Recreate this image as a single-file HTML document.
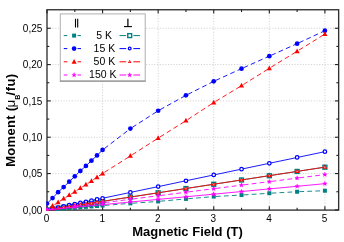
<!DOCTYPE html>
<html><head><meta charset="utf-8"><title>Chart</title>
<style>html,body{margin:0;padding:0;background:#fff;}body{width:344px;height:242px;position:relative;overflow:hidden;font-family:"Liberation Sans",sans-serif;}</style>
</head><body>
<svg width="344" height="242" viewBox="0 0 344 242" style="position:absolute;left:0;top:0;will-change:transform">
<rect width="344" height="242" fill="#fff"/>
<g stroke="#d0d0d0" stroke-width="1" stroke-dasharray="1.1 1.65" fill="none"><line x1="102.58" y1="9.75" x2="102.58" y2="210.10"/><line x1="158.16" y1="9.75" x2="158.16" y2="210.10"/><line x1="213.74" y1="9.75" x2="213.74" y2="210.10"/><line x1="269.32" y1="9.75" x2="269.32" y2="210.10"/><line x1="324.90" y1="9.75" x2="324.90" y2="210.10"/><line x1="47.00" y1="173.57" x2="338.65" y2="173.57"/><line x1="47.00" y1="137.24" x2="338.65" y2="137.24"/><line x1="47.00" y1="100.91" x2="338.65" y2="100.91"/><line x1="47.00" y1="64.58" x2="338.65" y2="64.58"/><line x1="47.00" y1="28.25" x2="338.65" y2="28.25"/></g>
<rect x="47.00" y="9.75" width="291.65" height="200.35" fill="none" stroke="#303030" stroke-width="1.35"/>
<g stroke="#202020" stroke-width="1.1"><line x1="47.00" y1="210.10" x2="47.00" y2="206.35"/><line x1="47.00" y1="9.75" x2="47.00" y2="13.50"/><line x1="74.79" y1="210.10" x2="74.79" y2="207.80"/><line x1="74.79" y1="9.75" x2="74.79" y2="12.05"/><line x1="102.58" y1="210.10" x2="102.58" y2="206.35"/><line x1="102.58" y1="9.75" x2="102.58" y2="13.50"/><line x1="130.37" y1="210.10" x2="130.37" y2="207.80"/><line x1="130.37" y1="9.75" x2="130.37" y2="12.05"/><line x1="158.16" y1="210.10" x2="158.16" y2="206.35"/><line x1="158.16" y1="9.75" x2="158.16" y2="13.50"/><line x1="185.95" y1="210.10" x2="185.95" y2="207.80"/><line x1="185.95" y1="9.75" x2="185.95" y2="12.05"/><line x1="213.74" y1="210.10" x2="213.74" y2="206.35"/><line x1="213.74" y1="9.75" x2="213.74" y2="13.50"/><line x1="241.53" y1="210.10" x2="241.53" y2="207.80"/><line x1="241.53" y1="9.75" x2="241.53" y2="12.05"/><line x1="269.32" y1="210.10" x2="269.32" y2="206.35"/><line x1="269.32" y1="9.75" x2="269.32" y2="13.50"/><line x1="297.11" y1="210.10" x2="297.11" y2="207.80"/><line x1="297.11" y1="9.75" x2="297.11" y2="12.05"/><line x1="324.90" y1="210.10" x2="324.90" y2="206.35"/><line x1="324.90" y1="9.75" x2="324.90" y2="13.50"/><line x1="47.00" y1="209.90" x2="50.75" y2="209.90"/><line x1="338.65" y1="209.90" x2="334.90" y2="209.90"/><line x1="47.00" y1="191.74" x2="49.30" y2="191.74"/><line x1="338.65" y1="191.74" x2="336.35" y2="191.74"/><line x1="47.00" y1="173.57" x2="50.75" y2="173.57"/><line x1="338.65" y1="173.57" x2="334.90" y2="173.57"/><line x1="47.00" y1="155.41" x2="49.30" y2="155.41"/><line x1="338.65" y1="155.41" x2="336.35" y2="155.41"/><line x1="47.00" y1="137.24" x2="50.75" y2="137.24"/><line x1="338.65" y1="137.24" x2="334.90" y2="137.24"/><line x1="47.00" y1="119.08" x2="49.30" y2="119.08"/><line x1="338.65" y1="119.08" x2="336.35" y2="119.08"/><line x1="47.00" y1="100.91" x2="50.75" y2="100.91"/><line x1="338.65" y1="100.91" x2="334.90" y2="100.91"/><line x1="47.00" y1="82.74" x2="49.30" y2="82.74"/><line x1="338.65" y1="82.74" x2="336.35" y2="82.74"/><line x1="47.00" y1="64.58" x2="50.75" y2="64.58"/><line x1="338.65" y1="64.58" x2="334.90" y2="64.58"/><line x1="47.00" y1="46.41" x2="49.30" y2="46.41"/><line x1="338.65" y1="46.41" x2="336.35" y2="46.41"/><line x1="47.00" y1="28.25" x2="50.75" y2="28.25"/><line x1="338.65" y1="28.25" x2="334.90" y2="28.25"/></g>
<clipPath id="c"><rect x="46.30" y="9.05" width="293.05" height="201.80"/></clipPath>
<g clip-path="url(#c)">
<path d="M47.00 209.90 L52.56 209.47 M52.56 209.47 L58.12 209.03 M58.12 209.03 L63.67 208.60 M63.67 208.60 L69.23 208.16 M69.23 208.16 L74.79 207.73 M74.79 207.73 L80.35 207.29 M80.35 207.29 L85.91 206.86 M85.91 206.86 L91.46 206.42 M91.46 206.42 L97.02 205.99 M97.02 205.99 L102.58 205.55 M102.58 205.55 L130.37 203.38 M130.37 203.38 L158.16 201.43 M158.16 201.43 L185.95 198.89 M185.95 198.89 L213.74 196.57 M213.74 196.57 L241.53 195.06 M241.53 195.06 L269.32 193.25 M269.32 193.25 L297.11 191.73 M297.11 191.73 L324.90 190.72" fill="none" stroke="#008080" stroke-width="0.9" stroke-dasharray="4.8 3.2" stroke-dashoffset="5.8"/><rect x="45.00" y="207.90" width="4.00" height="4.00" fill="#008080"/><rect x="50.56" y="207.47" width="4.00" height="4.00" fill="#008080"/><rect x="56.12" y="207.03" width="4.00" height="4.00" fill="#008080"/><rect x="61.67" y="206.60" width="4.00" height="4.00" fill="#008080"/><rect x="67.23" y="206.16" width="4.00" height="4.00" fill="#008080"/><rect x="72.79" y="205.73" width="4.00" height="4.00" fill="#008080"/><rect x="78.35" y="205.29" width="4.00" height="4.00" fill="#008080"/><rect x="83.91" y="204.86" width="4.00" height="4.00" fill="#008080"/><rect x="89.46" y="204.42" width="4.00" height="4.00" fill="#008080"/><rect x="95.02" y="203.99" width="4.00" height="4.00" fill="#008080"/><rect x="100.58" y="203.55" width="4.00" height="4.00" fill="#008080"/><rect x="128.37" y="201.38" width="4.00" height="4.00" fill="#008080"/><rect x="156.16" y="199.43" width="4.00" height="4.00" fill="#008080"/><rect x="183.95" y="196.89" width="4.00" height="4.00" fill="#008080"/><rect x="211.74" y="194.57" width="4.00" height="4.00" fill="#008080"/><rect x="239.53" y="193.06" width="4.00" height="4.00" fill="#008080"/><rect x="267.32" y="191.25" width="4.00" height="4.00" fill="#008080"/><rect x="295.11" y="189.73" width="4.00" height="4.00" fill="#008080"/><rect x="322.90" y="188.72" width="4.00" height="4.00" fill="#008080"/>
<path d="M47.00 209.90 L52.56 209.05 L58.12 208.19 L63.67 207.34 L69.23 206.48 L74.79 205.63 L80.35 204.77 L85.91 203.92 L91.46 203.06 L97.02 202.21 L102.58 201.36 L130.37 197.08 L158.16 192.81 L185.95 188.54 L213.74 184.27 L241.53 179.99 L269.32 175.72 L297.11 171.45 L324.90 167.18" fill="none" stroke="#008080" stroke-width="0.9"/><rect x="45.05" y="207.95" width="3.90" height="3.90" fill="#fff" stroke="#008080" stroke-width="1.4"/><rect x="50.61" y="207.10" width="3.90" height="3.90" fill="#fff" stroke="#008080" stroke-width="1.4"/><rect x="56.17" y="206.24" width="3.90" height="3.90" fill="#fff" stroke="#008080" stroke-width="1.4"/><rect x="61.72" y="205.39" width="3.90" height="3.90" fill="#fff" stroke="#008080" stroke-width="1.4"/><rect x="67.28" y="204.53" width="3.90" height="3.90" fill="#fff" stroke="#008080" stroke-width="1.4"/><rect x="72.84" y="203.68" width="3.90" height="3.90" fill="#fff" stroke="#008080" stroke-width="1.4"/><rect x="78.40" y="202.82" width="3.90" height="3.90" fill="#fff" stroke="#008080" stroke-width="1.4"/><rect x="83.96" y="201.97" width="3.90" height="3.90" fill="#fff" stroke="#008080" stroke-width="1.4"/><rect x="89.51" y="201.11" width="3.90" height="3.90" fill="#fff" stroke="#008080" stroke-width="1.4"/><rect x="95.07" y="200.26" width="3.90" height="3.90" fill="#fff" stroke="#008080" stroke-width="1.4"/><rect x="100.63" y="199.41" width="3.90" height="3.90" fill="#fff" stroke="#008080" stroke-width="1.4"/><rect x="128.42" y="195.13" width="3.90" height="3.90" fill="#fff" stroke="#008080" stroke-width="1.4"/><rect x="156.21" y="190.86" width="3.90" height="3.90" fill="#fff" stroke="#008080" stroke-width="1.4"/><rect x="184.00" y="186.59" width="3.90" height="3.90" fill="#fff" stroke="#008080" stroke-width="1.4"/><rect x="211.79" y="182.32" width="3.90" height="3.90" fill="#fff" stroke="#008080" stroke-width="1.4"/><rect x="239.58" y="178.04" width="3.90" height="3.90" fill="#fff" stroke="#008080" stroke-width="1.4"/><rect x="267.37" y="173.77" width="3.90" height="3.90" fill="#fff" stroke="#008080" stroke-width="1.4"/><rect x="295.16" y="169.50" width="3.90" height="3.90" fill="#fff" stroke="#008080" stroke-width="1.4"/><rect x="322.95" y="165.23" width="3.90" height="3.90" fill="#fff" stroke="#008080" stroke-width="1.4"/>
<path d="M47.00 203.51 L52.56 198.12 M52.56 198.12 L58.12 192.14 M58.12 192.14 L63.67 187.05 M63.67 187.05 L69.23 181.66 M69.23 181.66 L74.79 176.34 M74.79 176.34 L80.35 170.88 M80.35 170.88 L85.91 165.92 M85.91 165.92 L91.46 160.68 M91.46 160.68 L97.02 155.43 M97.02 155.43 L102.58 149.97 M102.58 149.97 L130.37 128.62 M130.37 128.62 L158.16 110.75 M158.16 110.75 L185.95 95.35 M185.95 95.35 L213.74 81.34 M213.74 81.34 L241.53 68.63 M241.53 68.63 L269.32 56.14 M269.32 56.14 L297.11 43.65 M297.11 43.65 L324.90 30.72" fill="none" stroke="#0000ff" stroke-width="0.9" stroke-dasharray="4.8 3.2" stroke-dashoffset="5.8"/><circle cx="47.00" cy="203.51" r="2.35" fill="#0000ff"/><circle cx="52.56" cy="198.12" r="2.35" fill="#0000ff"/><circle cx="58.12" cy="192.14" r="2.35" fill="#0000ff"/><circle cx="63.67" cy="187.05" r="2.35" fill="#0000ff"/><circle cx="69.23" cy="181.66" r="2.35" fill="#0000ff"/><circle cx="74.79" cy="176.34" r="2.35" fill="#0000ff"/><circle cx="80.35" cy="170.88" r="2.35" fill="#0000ff"/><circle cx="85.91" cy="165.92" r="2.35" fill="#0000ff"/><circle cx="91.46" cy="160.68" r="2.35" fill="#0000ff"/><circle cx="97.02" cy="155.43" r="2.35" fill="#0000ff"/><circle cx="102.58" cy="149.97" r="2.35" fill="#0000ff"/><circle cx="130.37" cy="128.62" r="2.35" fill="#0000ff"/><circle cx="158.16" cy="110.75" r="2.35" fill="#0000ff"/><circle cx="185.95" cy="95.35" r="2.35" fill="#0000ff"/><circle cx="213.74" cy="81.34" r="2.35" fill="#0000ff"/><circle cx="241.53" cy="68.63" r="2.35" fill="#0000ff"/><circle cx="269.32" cy="56.14" r="2.35" fill="#0000ff"/><circle cx="297.11" cy="43.65" r="2.35" fill="#0000ff"/><circle cx="324.90" cy="30.72" r="2.35" fill="#0000ff"/>
<path d="M47.00 209.90 L52.56 208.74 L58.12 207.57 L63.67 206.41 L69.23 205.24 L74.79 204.08 L80.35 202.91 L85.91 201.75 L91.46 200.58 L97.02 199.42 L102.58 198.25 L130.37 192.43 L158.16 186.61 L185.95 180.78 L213.74 174.96 L241.53 169.13 L269.32 163.31 L297.11 157.49 L324.90 151.66" fill="none" stroke="#0000ff" stroke-width="0.9"/><circle cx="47.00" cy="209.90" r="1.75" fill="#fff" stroke="#0000ff" stroke-width="1.25"/><circle cx="52.56" cy="208.74" r="1.75" fill="#fff" stroke="#0000ff" stroke-width="1.25"/><circle cx="58.12" cy="207.57" r="1.75" fill="#fff" stroke="#0000ff" stroke-width="1.25"/><circle cx="63.67" cy="206.41" r="1.75" fill="#fff" stroke="#0000ff" stroke-width="1.25"/><circle cx="69.23" cy="205.24" r="1.75" fill="#fff" stroke="#0000ff" stroke-width="1.25"/><circle cx="74.79" cy="204.08" r="1.75" fill="#fff" stroke="#0000ff" stroke-width="1.25"/><circle cx="80.35" cy="202.91" r="1.75" fill="#fff" stroke="#0000ff" stroke-width="1.25"/><circle cx="85.91" cy="201.75" r="1.75" fill="#fff" stroke="#0000ff" stroke-width="1.25"/><circle cx="91.46" cy="200.58" r="1.75" fill="#fff" stroke="#0000ff" stroke-width="1.25"/><circle cx="97.02" cy="199.42" r="1.75" fill="#fff" stroke="#0000ff" stroke-width="1.25"/><circle cx="102.58" cy="198.25" r="1.75" fill="#fff" stroke="#0000ff" stroke-width="1.25"/><circle cx="130.37" cy="192.43" r="1.75" fill="#fff" stroke="#0000ff" stroke-width="1.25"/><circle cx="158.16" cy="186.61" r="1.75" fill="#fff" stroke="#0000ff" stroke-width="1.25"/><circle cx="185.95" cy="180.78" r="1.75" fill="#fff" stroke="#0000ff" stroke-width="1.25"/><circle cx="213.74" cy="174.96" r="1.75" fill="#fff" stroke="#0000ff" stroke-width="1.25"/><circle cx="241.53" cy="169.13" r="1.75" fill="#fff" stroke="#0000ff" stroke-width="1.25"/><circle cx="269.32" cy="163.31" r="1.75" fill="#fff" stroke="#0000ff" stroke-width="1.25"/><circle cx="297.11" cy="157.49" r="1.75" fill="#fff" stroke="#0000ff" stroke-width="1.25"/><circle cx="324.90" cy="151.66" r="1.75" fill="#fff" stroke="#0000ff" stroke-width="1.25"/>
<path d="M47.00 209.90 L52.56 205.82 M52.56 205.82 L58.12 202.40 M58.12 202.40 L63.67 198.69 M63.67 198.69 L69.23 195.19 M69.23 195.19 L74.79 191.77 M74.79 191.77 L80.35 188.06 M80.35 188.06 L85.91 184.71 M85.91 184.71 L91.46 181.00 M91.46 181.00 L97.02 177.28 M97.02 177.28 L102.58 173.50 M102.58 173.50 L130.37 155.95 M130.37 155.95 L158.16 138.11 M158.16 138.11 L185.95 120.71 M185.95 120.71 L213.74 102.51 M213.74 102.51 L241.53 85.69 M241.53 85.69 L269.32 68.29 M269.32 68.29 L297.11 51.25 M297.11 51.25 L324.90 34.06" fill="none" stroke="#ff0000" stroke-width="0.9" stroke-dasharray="4.8 3.2" stroke-dashoffset="5.8"/><polygon points="47.00,207.05 44.45,211.80 49.55,211.80" fill="#ff0000"/><polygon points="52.56,202.97 50.01,207.72 55.11,207.72" fill="#ff0000"/><polygon points="58.12,199.55 55.57,204.30 60.67,204.30" fill="#ff0000"/><polygon points="63.67,195.84 61.12,200.59 66.22,200.59" fill="#ff0000"/><polygon points="69.23,192.34 66.68,197.09 71.78,197.09" fill="#ff0000"/><polygon points="74.79,188.92 72.24,193.67 77.34,193.67" fill="#ff0000"/><polygon points="80.35,185.21 77.80,189.96 82.90,189.96" fill="#ff0000"/><polygon points="85.91,181.86 83.36,186.61 88.46,186.61" fill="#ff0000"/><polygon points="91.46,178.15 88.91,182.90 94.01,182.90" fill="#ff0000"/><polygon points="97.02,174.43 94.47,179.18 99.57,179.18" fill="#ff0000"/><polygon points="102.58,170.65 100.03,175.40 105.13,175.40" fill="#ff0000"/><polygon points="130.37,153.10 127.82,157.85 132.92,157.85" fill="#ff0000"/><polygon points="158.16,135.26 155.61,140.01 160.71,140.01" fill="#ff0000"/><polygon points="185.95,117.86 183.40,122.61 188.50,122.61" fill="#ff0000"/><polygon points="213.74,99.66 211.19,104.41 216.29,104.41" fill="#ff0000"/><polygon points="241.53,82.84 238.98,87.59 244.08,87.59" fill="#ff0000"/><polygon points="269.32,65.44 266.77,70.19 271.87,70.19" fill="#ff0000"/><polygon points="297.11,48.40 294.56,53.15 299.66,53.15" fill="#ff0000"/><polygon points="324.90,31.21 322.35,35.96 327.45,35.96" fill="#ff0000"/>
<path d="M47.00 209.90 L52.56 209.04 L58.12 208.19 L63.67 207.33 L69.23 206.48 L74.79 205.62 L80.35 204.76 L85.91 203.91 L91.46 203.05 L97.02 202.20 L102.58 201.34 L130.37 197.06 L158.16 192.78 L185.95 188.50 L213.74 184.22 L241.53 179.94 L269.32 175.66 L297.11 171.38 L324.90 167.10" fill="none" stroke="#ff0000" stroke-width="0.9"/><polygon points="47.00,207.35 44.70,211.55 49.30,211.55" fill="#ff0000"/><polygon points="47.00,209.15 46.25,210.55 47.75,210.55" fill="#fff"/><polygon points="52.56,206.49 50.26,210.69 54.86,210.69" fill="#ff0000"/><polygon points="52.56,208.29 51.81,209.69 53.31,209.69" fill="#fff"/><polygon points="58.12,205.64 55.82,209.84 60.42,209.84" fill="#ff0000"/><polygon points="58.12,207.44 57.37,208.84 58.87,208.84" fill="#fff"/><polygon points="63.67,204.78 61.37,208.98 65.97,208.98" fill="#ff0000"/><polygon points="63.67,206.58 62.92,207.98 64.42,207.98" fill="#fff"/><polygon points="69.23,203.93 66.93,208.13 71.53,208.13" fill="#ff0000"/><polygon points="69.23,205.73 68.48,207.13 69.98,207.13" fill="#fff"/><polygon points="74.79,203.07 72.49,207.27 77.09,207.27" fill="#ff0000"/><polygon points="74.79,204.87 74.04,206.27 75.54,206.27" fill="#fff"/><polygon points="80.35,202.21 78.05,206.41 82.65,206.41" fill="#ff0000"/><polygon points="80.35,204.01 79.60,205.41 81.10,205.41" fill="#fff"/><polygon points="85.91,201.36 83.61,205.56 88.21,205.56" fill="#ff0000"/><polygon points="85.91,203.16 85.16,204.56 86.66,204.56" fill="#fff"/><polygon points="91.46,200.50 89.16,204.70 93.76,204.70" fill="#ff0000"/><polygon points="91.46,202.30 90.71,203.70 92.21,203.70" fill="#fff"/><polygon points="97.02,199.65 94.72,203.85 99.32,203.85" fill="#ff0000"/><polygon points="97.02,201.45 96.27,202.85 97.77,202.85" fill="#fff"/><polygon points="102.58,198.79 100.28,202.99 104.88,202.99" fill="#ff0000"/><polygon points="102.58,200.59 101.83,201.99 103.33,201.99" fill="#fff"/><polygon points="130.37,194.51 128.07,198.71 132.67,198.71" fill="#ff0000"/><polygon points="130.37,196.31 129.62,197.71 131.12,197.71" fill="#fff"/><polygon points="158.16,190.23 155.86,194.43 160.46,194.43" fill="#ff0000"/><polygon points="158.16,192.03 157.41,193.43 158.91,193.43" fill="#fff"/><polygon points="185.95,185.95 183.65,190.15 188.25,190.15" fill="#ff0000"/><polygon points="185.95,187.75 185.20,189.15 186.70,189.15" fill="#fff"/><polygon points="213.74,181.67 211.44,185.87 216.04,185.87" fill="#ff0000"/><polygon points="213.74,183.47 212.99,184.87 214.49,184.87" fill="#fff"/><polygon points="241.53,177.39 239.23,181.59 243.83,181.59" fill="#ff0000"/><polygon points="241.53,179.19 240.78,180.59 242.28,180.59" fill="#fff"/><polygon points="269.32,173.11 267.02,177.31 271.62,177.31" fill="#ff0000"/><polygon points="269.32,174.91 268.57,176.31 270.07,176.31" fill="#fff"/><polygon points="297.11,168.83 294.81,173.03 299.41,173.03" fill="#ff0000"/><polygon points="297.11,170.63 296.36,172.03 297.86,172.03" fill="#fff"/><polygon points="324.90,164.55 322.60,168.75 327.20,168.75" fill="#ff0000"/><polygon points="324.90,166.35 324.15,167.75 325.65,167.75" fill="#fff"/>
<path d="M47.00 209.90 L74.79 206.37 M74.79 206.37 L102.58 202.84 M102.58 202.84 L130.37 199.31 M130.37 199.31 L158.16 195.77 M158.16 195.77 L185.95 192.24 M185.95 192.24 L213.74 188.71 M213.74 188.71 L241.53 185.18 M241.53 185.18 L269.32 181.65 M269.32 181.65 L297.11 178.12 M297.11 178.12 L324.90 174.59" fill="none" stroke="#ff00ff" stroke-width="0.9" stroke-dasharray="4.8 3.2" stroke-dashoffset="5.8"/><polygon points="47.00,207.50 47.63,209.03 49.28,209.16 48.03,210.23 48.41,211.84 47.00,210.98 45.59,211.84 45.97,210.23 44.72,209.16 46.37,209.03" fill="#ff00ff" stroke="#ff00ff" stroke-width="0.3"/><polygon points="74.79,203.97 75.42,205.49 77.07,205.63 75.82,206.70 76.20,208.31 74.79,207.45 73.38,208.31 73.76,206.70 72.51,205.63 74.16,205.49" fill="#ff00ff" stroke="#ff00ff" stroke-width="0.3"/><polygon points="102.58,200.44 103.21,201.96 104.86,202.10 103.61,203.17 103.99,204.78 102.58,203.92 101.17,204.78 101.55,203.17 100.30,202.10 101.95,201.96" fill="#ff00ff" stroke="#ff00ff" stroke-width="0.3"/><polygon points="130.37,196.91 131.00,198.43 132.65,198.56 131.40,199.64 131.78,201.25 130.37,200.39 128.96,201.25 129.34,199.64 128.09,198.56 129.74,198.43" fill="#ff00ff" stroke="#ff00ff" stroke-width="0.3"/><polygon points="158.16,193.37 158.79,194.90 160.44,195.03 159.19,196.11 159.57,197.72 158.16,196.85 156.75,197.72 157.13,196.11 155.88,195.03 157.53,194.90" fill="#ff00ff" stroke="#ff00ff" stroke-width="0.3"/><polygon points="185.95,189.84 186.58,191.37 188.23,191.50 186.98,192.58 187.36,194.19 185.95,193.32 184.54,194.19 184.92,192.58 183.67,191.50 185.32,191.37" fill="#ff00ff" stroke="#ff00ff" stroke-width="0.3"/><polygon points="213.74,186.31 214.37,187.84 216.02,187.97 214.77,189.05 215.15,190.65 213.74,189.79 212.33,190.65 212.71,189.05 211.46,187.97 213.11,187.84" fill="#ff00ff" stroke="#ff00ff" stroke-width="0.3"/><polygon points="241.53,182.78 242.16,184.31 243.81,184.44 242.56,185.51 242.94,187.12 241.53,186.26 240.12,187.12 240.50,185.51 239.25,184.44 240.90,184.31" fill="#ff00ff" stroke="#ff00ff" stroke-width="0.3"/><polygon points="269.32,179.25 269.95,180.78 271.60,180.91 270.35,181.98 270.73,183.59 269.32,182.73 267.91,183.59 268.29,181.98 267.04,180.91 268.69,180.78" fill="#ff00ff" stroke="#ff00ff" stroke-width="0.3"/><polygon points="297.11,175.72 297.74,177.24 299.39,177.38 298.14,178.45 298.52,180.06 297.11,179.20 295.70,180.06 296.08,178.45 294.83,177.38 296.48,177.24" fill="#ff00ff" stroke="#ff00ff" stroke-width="0.3"/><polygon points="324.90,172.19 325.53,173.71 327.18,173.85 325.93,174.92 326.31,176.53 324.90,175.67 323.49,176.53 323.87,174.92 322.62,173.85 324.27,173.71" fill="#ff00ff" stroke="#ff00ff" stroke-width="0.3"/>
<path d="M47.00 209.90 L74.79 207.28 L102.58 204.65 L130.37 202.03 L158.16 199.41 L185.95 196.78 L213.74 194.16 L241.53 191.54 L269.32 188.92 L297.11 186.29 L324.90 183.67" fill="none" stroke="#ff00ff" stroke-width="0.9"/><polygon points="47.00,207.50 47.63,209.03 49.28,209.16 48.03,210.23 48.41,211.84 47.00,210.98 45.59,211.84 45.97,210.23 44.72,209.16 46.37,209.03" fill="#ff00ff" stroke="#ff00ff" stroke-width="0.3"/><polygon points="74.79,204.88 75.42,206.40 77.07,206.54 75.82,207.61 76.20,209.22 74.79,208.36 73.38,209.22 73.76,207.61 72.51,206.54 74.16,206.40" fill="#ff00ff" stroke="#ff00ff" stroke-width="0.3"/><polygon points="102.58,202.25 103.21,203.78 104.86,203.91 103.61,204.99 103.99,206.60 102.58,205.73 101.17,206.60 101.55,204.99 100.30,203.91 101.95,203.78" fill="#ff00ff" stroke="#ff00ff" stroke-width="0.3"/><polygon points="130.37,199.63 131.00,201.16 132.65,201.29 131.40,202.36 131.78,203.97 130.37,203.11 128.96,203.97 129.34,202.36 128.09,201.29 129.74,201.16" fill="#ff00ff" stroke="#ff00ff" stroke-width="0.3"/><polygon points="158.16,197.01 158.79,198.53 160.44,198.67 159.19,199.74 159.57,201.35 158.16,200.49 156.75,201.35 157.13,199.74 155.88,198.67 157.53,198.53" fill="#ff00ff" stroke="#ff00ff" stroke-width="0.3"/><polygon points="185.95,194.38 186.58,195.91 188.23,196.04 186.98,197.12 187.36,198.73 185.95,197.86 184.54,198.73 184.92,197.12 183.67,196.04 185.32,195.91" fill="#ff00ff" stroke="#ff00ff" stroke-width="0.3"/><polygon points="213.74,191.76 214.37,193.29 216.02,193.42 214.77,194.50 215.15,196.10 213.74,195.24 212.33,196.10 212.71,194.50 211.46,193.42 213.11,193.29" fill="#ff00ff" stroke="#ff00ff" stroke-width="0.3"/><polygon points="241.53,189.14 242.16,190.67 243.81,190.80 242.56,191.87 242.94,193.48 241.53,192.62 240.12,193.48 240.50,191.87 239.25,190.80 240.90,190.67" fill="#ff00ff" stroke="#ff00ff" stroke-width="0.3"/><polygon points="269.32,186.52 269.95,188.04 271.60,188.17 270.35,189.25 270.73,190.86 269.32,190.00 267.91,190.86 268.29,189.25 267.04,188.17 268.69,188.04" fill="#ff00ff" stroke="#ff00ff" stroke-width="0.3"/><polygon points="297.11,183.89 297.74,185.42 299.39,185.55 298.14,186.63 298.52,188.23 297.11,187.37 295.70,188.23 296.08,186.63 294.83,185.55 296.48,185.42" fill="#ff00ff" stroke="#ff00ff" stroke-width="0.3"/><polygon points="324.90,181.27 325.53,182.80 327.18,182.93 325.93,184.00 326.31,185.61 324.90,184.75 323.49,185.61 323.87,184.00 322.62,182.93 324.27,182.80" fill="#ff00ff" stroke="#ff00ff" stroke-width="0.3"/>
</g>
<g font-family="Liberation Sans, sans-serif" font-size="10px" fill="#000"><text x="46.60" y="222.0" text-anchor="middle">0</text><text x="102.18" y="222.0" text-anchor="middle">1</text><text x="157.76" y="222.0" text-anchor="middle">2</text><text x="213.34" y="222.0" text-anchor="middle">3</text><text x="268.92" y="222.0" text-anchor="middle">4</text><text x="324.50" y="222.0" text-anchor="middle">5</text><text x="42.3" y="213.80" text-anchor="end">0,00</text><text x="42.3" y="177.47" text-anchor="end">0,05</text><text x="42.3" y="141.14" text-anchor="end">0,10</text><text x="42.3" y="104.81" text-anchor="end">0,15</text><text x="42.3" y="68.48" text-anchor="end">0,20</text><text x="42.3" y="32.15" text-anchor="end">0,25</text></g>
<text x="187.5" y="236.1" text-anchor="middle" font-family="Liberation Sans, sans-serif" font-weight="bold" font-size="13px">Magnetic Field (T)</text>
<g transform="translate(15.2,0) rotate(-90)" font-family="Liberation Sans, sans-serif" font-weight="bold" font-size="13px" fill="#000"><text x="-166.8" y="0" textLength="60" lengthAdjust="spacing">Moment (</text><text x="-107.6" y="0" font-weight="normal" font-size="13.5px">μ</text><text x="-99.8" y="5.0" font-size="7px">B</text><text x="-95.4" y="0" textLength="21.6" lengthAdjust="spacing">/fu)</text></g>
<rect x="60.3" y="13.9" width="84.9" height="67.2" fill="#fff" stroke="#b0b0b0" stroke-width="1"/><path d="M59.8 81.1 H145.7" stroke="#858585" stroke-width="1" fill="none"/>
<path d="M63.75 35.60 H67.25 M77.5 35.60 H81" stroke="#008080" stroke-width="1.0" fill="none"/><rect x="72.10" y="33.60" width="4.00" height="4.00" fill="#008080"/><path d="M119.5 35.60 H126.2 M133.4 35.60 H140.1" stroke="#008080" stroke-width="1.0" fill="none"/><rect x="127.75" y="33.65" width="3.90" height="3.90" fill="#fff" stroke="#008080" stroke-width="1.4"/><text x="112.10" y="38.70" text-anchor="end" font-family="Liberation Sans, sans-serif" font-size="10.5px">5 K</text><path d="M63.75 48.60 H67.25 M77.5 48.60 H81" stroke="#0000ff" stroke-width="1.0" fill="none"/><circle cx="74.10" cy="48.60" r="2.35" fill="#0000ff"/><path d="M119.5 48.60 H126.2 M133.4 48.60 H140.1" stroke="#0000ff" stroke-width="1.0" fill="none"/><circle cx="129.70" cy="48.60" r="1.36" fill="#fff" stroke="#0000ff" stroke-width="1.25"/><text x="115.20" y="51.70" text-anchor="end" font-family="Liberation Sans, sans-serif" font-size="10.5px">15 K</text><path d="M63.75 61.80 H67.25 M77.5 61.80 H81" stroke="#ff0000" stroke-width="1.0" fill="none"/><polygon points="74.10,58.95 71.55,63.70 76.65,63.70" fill="#ff0000"/><path d="M119.5 61.80 H126.2 M133.4 61.80 H140.1" stroke="#ff0000" stroke-width="1.0" fill="none"/><polygon points="129.70,59.81 127.91,63.09 131.49,63.09" fill="#ff0000"/><polygon points="129.70,61.21 129.11,62.31 130.28,62.31" fill="#fff"/><text x="115.20" y="64.90" text-anchor="end" font-family="Liberation Sans, sans-serif" font-size="10.5px">50 K</text><path d="M63.75 75.00 H67.25 M77.5 75.00 H81" stroke="#ff00ff" stroke-width="1.0" fill="none"/><polygon points="74.10,72.60 74.73,74.13 76.38,74.26 75.13,75.33 75.51,76.94 74.10,76.08 72.69,76.94 73.07,75.33 71.82,74.26 73.47,74.13" fill="#ff00ff" stroke="#ff00ff" stroke-width="0.3"/><path d="M119.5 75.00 H126.2 M133.4 75.00 H140.1" stroke="#ff00ff" stroke-width="1.0" fill="none"/><polygon points="129.70,72.60 130.33,74.13 131.98,74.26 130.73,75.33 131.11,76.94 129.70,76.08 128.29,76.94 128.67,75.33 127.42,74.26 129.07,74.13" fill="#ff00ff" stroke="#ff00ff" stroke-width="0.3"/><text x="116.50" y="78.10" text-anchor="end" font-family="Liberation Sans, sans-serif" font-size="10.5px">150 K</text>
<path d="M75.5 18.8 V27.6 M77.7 18.8 V27.6" stroke="#000" stroke-width="1.1"/>
<path d="M127.9 18.75 V26.5" stroke="#000" stroke-width="1.25" fill="none"/><path d="M124 26.6 H131.9" stroke="#000" stroke-width="1.1" fill="none"/>
</svg>
</body></html>
